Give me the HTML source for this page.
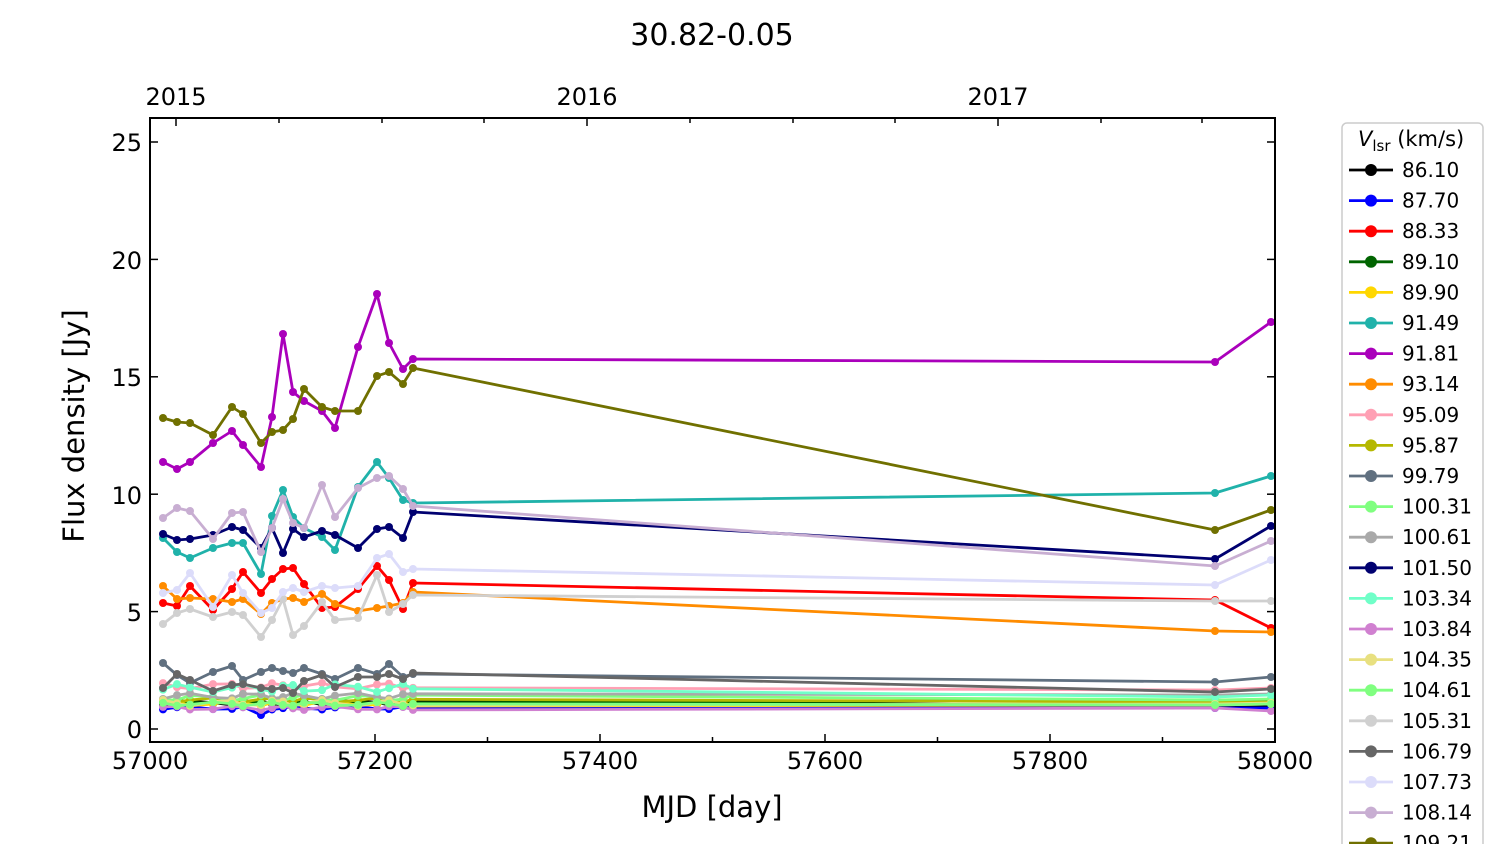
<!DOCTYPE html>
<html><head><meta charset="utf-8"><style>
html,body{margin:0;padding:0;background:#fff;}
svg text{font-family:"DejaVu Sans","Liberation Sans",sans-serif;fill:#000;}
</style></head><body>
<svg id="s" width="1500" height="844" xmlns="http://www.w3.org/2000/svg">
<rect width="1500" height="844" fill="#fff"/>
<text x="712" y="45" font-size="30" text-anchor="middle">30.82-0.05</text>
<g id="series"></g>
<rect x="150" y="118" width="1125" height="624" fill="none" stroke="#000" stroke-width="2"/>
<g id="ticks" stroke="#000" stroke-width="1.5"></g>
<g font-size="24" text-anchor="middle">
<text x="150" y="769">57000</text><text x="375" y="769">57200</text><text x="600" y="769">57400</text>
<text x="825" y="769">57600</text><text x="1050" y="769">57800</text><text x="1275" y="769">58000</text>
<text x="176" y="105">2015</text><text x="587" y="105">2016</text><text x="998" y="105">2017</text>
</g>
<g font-size="24" text-anchor="end">
<text x="142" y="738">0</text><text x="142" y="621">5</text><text x="142" y="504">10</text>
<text x="142" y="386">15</text><text x="142" y="269">20</text><text x="142" y="151">25</text>
</g>
<text x="712" y="817" font-size="29" text-anchor="middle">MJD [day]</text>
<text transform="translate(84,426) rotate(-90)" font-size="29" text-anchor="middle">Flux density [Jy]</text>
<rect x="1342" y="123" width="141" height="740" rx="5" fill="#fff" stroke="#ccc" stroke-width="1.5"/>
<text x="1358" y="146" font-size="21"><tspan font-style="italic">V</tspan><tspan font-size="15" dy="5">lsr</tspan><tspan dy="-5"> (km/s)</tspan></text>
<g id="legend"></g>
</svg>
<script>
var X=[163,177,190,213,232,243,261,272,283,293,304,322,335,358,377,389,403,413,1215,1271];
function flat(b,e1,e2,amp,seed){var a=[];for(var i=0;i<18;i++){a.push(b+amp*Math.sin(i*1.7+seed));}a.push(e1,e2);return a;}
var S=[
["86.10","#000000",flat(703,706,706,2,1)],
["87.70","#0000ff",(function(){var a=flat(708,708,708,1.5,2);a[6]=715;return a;})()],
["88.33","#ff0000",[603,606,586,610,589,572,593,579,569,568,584,608,607,589,566,580,609,583,600,628]],
["89.10","#006400",flat(702,700,700,2,3)],
["89.90","#ffd700",flat(703,705,704,3,4)],
["91.49","#20b2aa",[538,552,558,548,543,543,574,516,490,517,528,537,550,487,462,478,500,503,493,476]],
["91.81","#aa00bb",[462,469,462,443,431,445,467,417,334,392,401,411,428,347,294,343,369,359,362,322]],
["93.14","#ff8c00",[586,599,598,599,602,599,614,603,599,598,602,594,604,611,608,606,603,592,631,632]],
["95.09","#ffa0b4",flat(686,690,688,3,5)],
["95.87","#b5b800",flat(700,702,702,2,6)],
["99.79","#607080",[663,675,683,672,666,680,672,668,671,673,668,674,679,668,674,664,677,674,682,677]],
["100.31","#80ff80",flat(698,700,699,3,7)],
["100.61","#a9a9a9",flat(696,695,694,3,8)],
["101.50","#000070",[534,540,539,535,527,530,548,528,553,529,537,531,535,548,529,527,538,512,559,526]],
["103.34","#70ffc8",flat(688,697,695,4,9)],
["103.84","#d080d0",flat(708,708,711,2,10)],
["104.35","#e8e080",flat(703,704,703,3,11)],
["104.61","#80ff80",flat(704,705,704,2,12)],
["105.31","#d0d0d0",[624,613,609,617,612,615,637,620,599,635,626,602,620,618,575,612,604,595,601,601]],
["106.79","#666666",[688,674,680,691,685,684,688,689,688,693,681,675,687,677,677,674,679,673,692,689]],
["107.73","#dcdcfa",[593,590,573,607,575,593,613,608,592,588,592,586,588,586,558,554,572,569,585,560]],
["108.14","#c8aed2",[518,508,511,539,513,512,552,528,499,523,528,485,517,488,478,476,489,506,566,541]],
["109.21","#707000",[418,422,423,435,407,414,443,432,430,419,389,407,411,411,376,372,384,368,530,510]]
];
var ns="http://www.w3.org/2000/svg";
var g=document.getElementById("series");
function el(t,a,p){var e=document.createElementNS(ns,t);for(var k in a)e.setAttribute(k,a[k]);p.appendChild(e);return e;}
S.forEach(function(s){
 var pts=X.map(function(x,i){return x+","+s[2][i].toFixed(1);}).join(" ");
 el("polyline",{points:pts,fill:"none",stroke:s[1],"stroke-width":2.8,"stroke-linejoin":"round"},g);
 X.forEach(function(x,i){el("circle",{cx:x,cy:s[2][i],r:4,fill:s[1]},g);});
});
var L=document.getElementById("legend");
S.forEach(function(s,i){var y=170+i*30.6;
 el("line",{x1:1349,x2:1393,y1:y,y2:y,stroke:s[1],"stroke-width":2.8},L);
 el("circle",{cx:1371,cy:y,r:6,fill:s[1]},L);
 var t=el("text",{x:1402,y:y+7,"font-size":20},L);t.textContent=s[0];
});
var T=document.getElementById("ticks");
for(var m=0;m<=1000;m+=100){var x=150+m*1.125,len=(m%200==0)?8:5;
 el("line",{x1:x,x2:x,y1:742,y2:742-len},T);}
[176,587,998].forEach(function(x){el("line",{x1:x,x2:x,y1:118,y2:126},T);});
[279,382,484,690,793,895,1101,1202].forEach(function(x){el("line",{x1:x,x2:x,y1:118,y2:123},T);});
for(var v=0;v<=25;v+=5){var y=729-v*23.48;
 el("line",{x1:150,x2:158,y1:y,y2:y},T);el("line",{x1:1275,x2:1267,y1:y,y2:y},T);}
</script>
</body></html>
